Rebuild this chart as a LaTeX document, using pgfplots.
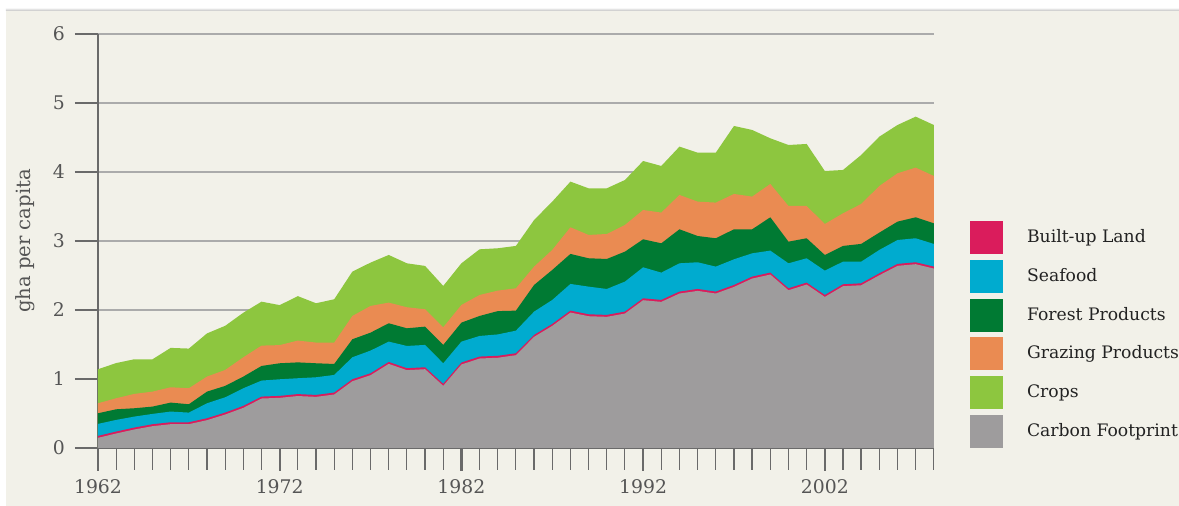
\documentclass[border=0pt]{standalone}
\usepackage{fontspec}
\setmainfont{DejaVu Serif}
\usepackage{pgfplots}
\pgfplotsset{compat=1.18}
\usepackage{pgfplotstable}
\definecolor{bg}{HTML}{F2F1E9}
\definecolor{cbuilt}{HTML}{DA1C5C}
\definecolor{csea}{HTML}{00ABCF}
\definecolor{cforest}{HTML}{007A33}
\definecolor{cgraz}{HTML}{EA8B52}
\definecolor{ccrops}{HTML}{8DC63F}
\definecolor{ccarbon}{HTML}{9E9C9D}
\definecolor{gridc}{HTML}{ABABAB}
\definecolor{axc}{HTML}{6A6A6A}
\definecolor{labc}{HTML}{555555}
\definecolor{legc}{HTML}{222222}

% cumulative tops of each layer (gha per capita)
\pgfplotstableread{
year ca bu se fo gr cr
1962 0.146 0.174 0.348 0.502 0.647 1.140
1963 0.209 0.237 0.406 0.560 0.720 1.230
1964 0.267 0.295 0.454 0.575 0.783 1.285
1965 0.315 0.343 0.493 0.599 0.816 1.285
1966 0.344 0.372 0.527 0.657 0.879 1.450
1967 0.344 0.372 0.512 0.633 0.865 1.440
1968 0.402 0.430 0.647 0.816 1.034 1.660
1969 0.484 0.512 0.734 0.899 1.130 1.770
1970 0.581 0.609 0.865 1.034 1.314 1.960
1971 0.716 0.744 0.976 1.188 1.483 2.120
1972 0.726 0.754 0.995 1.227 1.490 2.070
1973 0.752 0.780 1.010 1.240 1.556 2.200
1974 0.740 0.768 1.024 1.227 1.527 2.097
1975 0.774 0.802 1.058 1.217 1.527 2.155
1976 0.967 0.995 1.314 1.575 1.913 2.556
1977 1.054 1.082 1.411 1.671 2.058 2.686
1978 1.218 1.246 1.541 1.807 2.106 2.797
1979 1.127 1.155 1.478 1.734 2.039 2.676
1980 1.141 1.169 1.493 1.758 2.010 2.638
1981 0.900 0.928 1.227 1.493 1.749 2.348
1982 1.209 1.237 1.541 1.816 2.072 2.676
1983 1.296 1.324 1.623 1.913 2.217 2.879
1984 1.307 1.335 1.645 1.983 2.280 2.894
1985 1.344 1.372 1.700 1.990 2.314 2.928
1986 1.610 1.638 1.976 2.362 2.628 3.304
1987 1.769 1.797 2.145 2.580 2.870 3.570
1988 1.962 1.990 2.377 2.812 3.198 3.860
1989 1.909 1.937 2.338 2.749 3.087 3.763
1990 1.900 1.928 2.304 2.739 3.101 3.763
1991 1.948 1.976 2.411 2.845 3.232 3.884
1992 2.141 2.169 2.618 3.024 3.449 4.159
1993 2.117 2.145 2.541 2.966 3.411 4.087
1994 2.238 2.266 2.676 3.169 3.667 4.367
1995 2.276 2.304 2.691 3.072 3.570 4.280
1996 2.238 2.266 2.628 3.039 3.556 4.280
1997 2.334 2.362 2.734 3.169 3.681 4.667
1998 2.455 2.483 2.821 3.169 3.643 4.609
1999 2.513 2.541 2.860 3.343 3.826 4.488
2000 2.286 2.314 2.676 2.990 3.507 4.391
2001 2.368 2.396 2.749 3.039 3.507 4.406
2002 2.189 2.217 2.570 2.797 3.246 4.014
2003 2.344 2.372 2.700 2.928 3.401 4.029
2004 2.358 2.386 2.700 2.957 3.536 4.246
2005 2.503 2.531 2.870 3.121 3.797 4.512
2006 2.639 2.667 3.014 3.280 3.981 4.681
2007 2.663 2.691 3.039 3.343 4.063 4.802
2008 2.600 2.628 2.957 3.256 3.942 4.681
}\data

\begin{document}
\begin{tikzpicture}
\fill[white] (0,0) rectangle (589.5pt,253pt);
\fill[bg] (3pt,0) rectangle (589.5pt,247.5pt);
\shade[top color=white, bottom color=gray!50] (3pt,247.5pt) rectangle (589.5pt,249.2pt);
\begin{axis}[
  at={(49pt,29pt)}, anchor=south west,
  scale only axis, width=418pt, height=207pt,
  xmin=1962, xmax=2008, ymin=0, ymax=6,
  axis x line*=bottom, axis y line*=left,
  axis line style={axc, line width=0.8pt, -},
  ytick={0,1,2,3,4,5,6},
  ymajorgrids, grid style={gridc, line width=0.6pt},
  xtick={1962,1972,1982,1992,2002},
  minor xtick={1963,...,2008},
  tick align=outside,
  major tick length=11.5pt, minor tick length=11pt,
  every tick/.style={axc},
  x tick style={axc, line width=1.1pt},
  minor x tick style={axc, line width=0.6pt},
  y tick style={axc, line width=0.7pt},
  /pgf/number format/assume math mode=true,
  tick label style={font=\fontsize{9.4}{10}\selectfont, text=labc},
  x tick label style={/pgf/number format/1000 sep={}, yshift=-0.6pt},
  y tick label style={xshift=-1.5pt},
  ylabel={gha per capita},
  ylabel style={font=\fontsize{9.8}{11}\selectfont, text=labc,
    at={(axis description cs:-0.0873,0.5)}, anchor=center, rotate=0},
  legend image code/.code={\fill[#1] (0pt,-8pt) rectangle (16pt,8pt);},
  legend cell align=left,
  legend style={at={(axis description cs:1.0431,0.5483)}, anchor=north west,
    draw=none, fill=none, inner sep=0pt, row sep=2.95pt, column sep=12pt,
    font=\fontsize{8.6}{10}\selectfont, text=legc, nodes={inner sep=0pt}},
]
\addplot[fill=ccrops, draw=none, forget plot] table[x=year,y=cr]{\data} \closedcycle;
\addplot[fill=cgraz, draw=none, forget plot] table[x=year,y=gr]{\data} \closedcycle;
\addplot[fill=cforest, draw=none, forget plot] table[x=year,y=fo]{\data} \closedcycle;
\addplot[fill=csea, draw=none, forget plot] table[x=year,y=se]{\data} \closedcycle;
\addplot[fill=cbuilt, draw=none, forget plot] table[x=year,y=bu]{\data} \closedcycle;
\addplot[fill=ccarbon, draw=none, forget plot] table[x=year,y=ca]{\data} \closedcycle;
\addlegendimage{cbuilt}\addlegendentry{Built-up Land}
\addlegendimage{csea}\addlegendentry{Seafood}
\addlegendimage{cforest}\addlegendentry{Forest Products}
\addlegendimage{cgraz}\addlegendentry{Grazing Products}
\addlegendimage{ccrops}\addlegendentry{Crops}
\addlegendimage{ccarbon}\addlegendentry{Carbon Footprint}
\end{axis}
\end{tikzpicture}
\end{document}
